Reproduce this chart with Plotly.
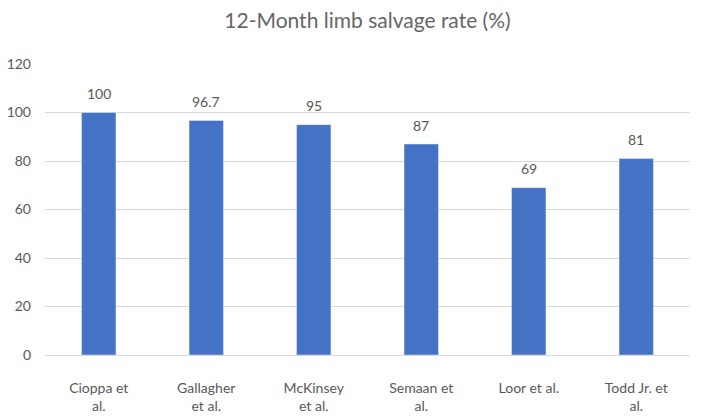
import plotly.graph_objects as go

categories = ["Cioppa et<br>al.", "Gallagher<br>et al.", "McKinsey<br>et al.", "Semaan et<br>al.", "Loor et al.", "Todd Jr. et<br>al."]
values = [100, 96.7, 95, 87, 69, 81]
value_labels = ["100", "96.7", "95", "87", "69", "81"]
y_ticks = [0, 20, 40, 60, 80, 100, 120]

FONT = "Lato, 'Open Sans', sans-serif"
GRAY = "#595959"

fig = go.Figure(go.Bar(
    x=categories, y=values,
    marker=dict(color="#4472C4"), cliponaxis=False,
))
for c, v, t in zip(categories, values, value_labels):
    fig.add_annotation(x=c, y=v, text=t, showarrow=False, yshift=19,
                       yanchor="middle", xanchor="center",
                       font=dict(size=14, color=GRAY, family=FONT))
fig.update_layout(
    width=702, height=416,
    margin=dict(l=37, r=20, t=56, b=69, autoexpand=False),
    paper_bgcolor="white", plot_bgcolor="white",
    title=dict(text="12-Month limb salvage rate (%)", x=0.5, xanchor="center",
               xref="paper",
               y=0.970, yanchor="middle",
               font=dict(size=21, color="#666666", family=FONT)),
    bargap=0.68,
    showlegend=False,
    font=dict(family=FONT, color=GRAY),
)
fig.update_yaxes(range=[0, 120], tickvals=y_ticks, showgrid=True, gridcolor="#D9D9D9",
                 gridwidth=1, zeroline=False, showline=False, automargin=False,
                 tickfont=dict(size=14, color=GRAY, family=FONT), ticks="", ticklen=0,
                 ticklabelstandoff=13)
fig.update_xaxes(showline=True, linecolor="#D9D9D9", linewidth=1, ticks="", automargin=False,
                 tickfont=dict(size=14, color=GRAY, family=FONT), ticklabelstandoff=20)
fig.write_html("out.html")
